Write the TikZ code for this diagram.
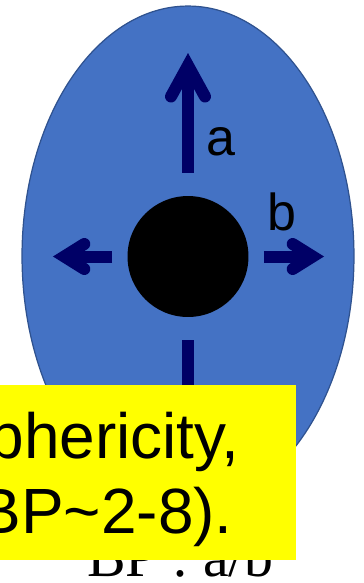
\documentclass[tikz,border=0pt]{standalone}
\usepackage{fontspec}
\setmainfont{Liberation Serif}
\newfontfamily\arial{Liberation Sans}
\usetikzlibrary{shapes.geometric}
\definecolor{shell}{HTML}{4472C4}
\definecolor{rim}{HTML}{2F528F}
\definecolor{navy}{HTML}{000066}
\definecolor{note}{HTML}{FFFF00}

\begin{document}
\begin{tikzpicture}[
    x=0.02cm, y=-0.02cm,
    font=\arial,
    shellbody/.style={ellipse, fill=shell, draw=rim, line width=0.7pt,
        minimum width=6.64cm, minimum height=10cm, inner sep=0pt},
    core/.style={circle, fill=black, minimum size=2.42cm, inner sep=0pt},
    axisline/.style={draw=navy, line width=0.24cm},
    headline/.style={draw=navy, line width=0.24cm, line cap=round, line join=miter},
    axislabel/.style={font=\arial\fontsize{29.6}{30}\selectfont, anchor=base, inner sep=0pt},
    notetext/.style={font=\arial\fontsize{36.4}{40}\selectfont, anchor=base east, inner sep=0pt},
    ratio/.style={font=\rmfamily\fontsize{32.9}{34}\selectfont, anchor=base west, inner sep=0pt}
]
\useasboundingbox (0,0) rectangle (363,583);
\clip (0,0) rectangle (363,583);

% Body and centre.
\node[shellbody] (shell) at (188,256) {};
\node[core] (core) at (188,256.5) {};

% Axes a and b, open heads.
\coordinate (tipN) at (188,65.5);
\coordinate (tipE) at (312.7,256.5);
\coordinate (tipW) at (64.3,256.5);
\coordinate (tipS) at (188,420);
\draw[axisline, shorten <=0.46cm] (core) -- (tipN);
\draw[axisline, shorten <=0.3cm] (core) -- (tipE);
\draw[axisline, shorten <=0.3cm] (core) -- (tipW);
\draw[axisline, shorten <=0.46cm] (core) -- (tipS);
\draw[headline] ([shift={(-17,31)}]tipN) -- (tipN) -- ([shift={(17,31)}]tipN);
\draw[headline] ([shift={(-20,-12.5)}]tipE) -- (tipE) -- ([shift={(-20,12.5)}]tipE);
\draw[headline] ([shift={(20,-12.5)}]tipW) -- (tipW) -- ([shift={(20,12.5)}]tipW);
\node[axislabel] (la) at (220.5,155) {a};
\node[axislabel] (lb) at (281.5,230) {b};

% Ratio, mostly under the note.
\node[ratio] (bp) at (87,576) {BP : a/b};

% Yellow note.
\fill[note] (0,385) rectangle (296,560);
\node[notetext] (line1) at (240,458) {phericity,};
\node[notetext] (line2) at (233,533) {BP\textasciitilde 2-8).};
\end{tikzpicture}
\end{document}
